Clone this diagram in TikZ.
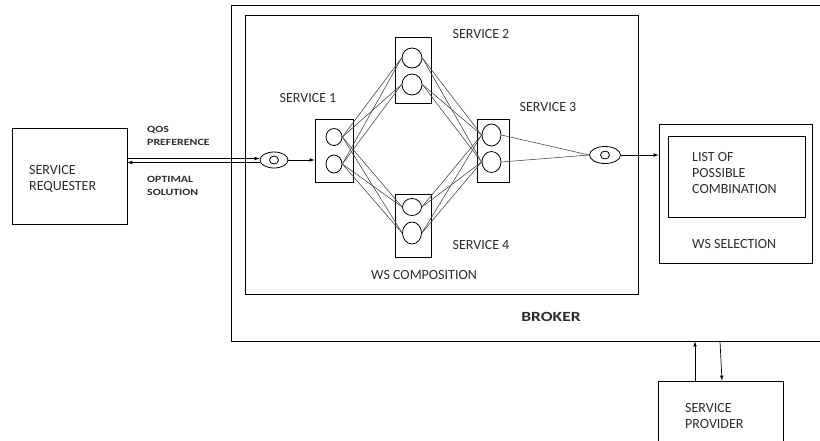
\documentclass[tikz,border=0pt]{standalone}
\usepackage{fontspec}
\setmainfont{Carlito}
\newfontfamily\widebold{Carlito}[FakeStretch=1.25]
\usetikzlibrary{arrows}
\usetikzlibrary{shapes.geometric}
\definecolor{txtgray}{RGB}{45,45,45}

\tikzset{
  box/.style={draw, line width=0.9pt, minimum width=#1},
  pod/.style={draw, line width=0.8pt, ellipse, inner sep=0pt},
  mesh/.style={line width=0.55pt, color=black!75},
  lbl/.style={inner sep=0pt, text=txtgray, font=\fontsize{14}{16}\selectfont},
  tag/.style={inner sep=0pt, text=txtgray, font=\widebold\bfseries\fontsize{9.5}{13}\selectfont},
}

\begin{document}
\begin{tikzpicture}[x=1pt, y=-1pt, >=latex]
\useasboundingbox (0,0) rectangle (820,440);
\clip (0,0) rectangle (820,440);

% outer boxes
\node[box=599pt, minimum height=336pt] (broker) at (530.5,173) {};
\node[box=393pt, minimum height=279pt] (comp) at (441.5,154.5) {};
\node[box=115pt, minimum height=96pt] (req) at (69.5,176) {};
\node[box=153pt, minimum height=139pt] (sel) at (735.5,193.5) {};
\node[box=137pt, minimum height=81pt] (list) at (736.5,176.5) {};
\node[box=125pt, minimum height=79pt] (prov) at (720.5,420.5) {};

% service boxes
\node[box=38pt, minimum height=63pt] (s1) at (334,150.5) {};
\node[box=36pt, minimum height=66pt] (s2) at (413,70) {};
\node[box=32pt, minimum height=63pt] (s3) at (493,150.5) {};
\node[box=36pt, minimum height=63pt] (s4) at (413,225.5) {};

% service instances
\node[pod, minimum width=16pt, minimum height=17pt] (s1a) at (334,137) {};
\node[pod, minimum width=16pt, minimum height=18pt] (s1b) at (334,164) {};
\node[pod, minimum width=20pt, minimum height=20pt] (s2a) at (412,58) {};
\node[pod, minimum width=20pt, minimum height=21pt] (s2b) at (412,84.5) {};
\node[pod, minimum width=19pt, minimum height=22pt] (s3a) at (491.5,135) {};
\node[pod, minimum width=19pt, minimum height=21pt] (s3b) at (491.5,162) {};
\node[pod, minimum width=19pt, minimum height=17pt] (s4a) at (412,207) {};
\node[pod, minimum width=19pt, minimum height=22pt] (s4b) at (412,233) {};

% entry and exit points
\node[pod, minimum width=28pt, minimum height=16pt] (e1) at (274,160) {};
\node[pod, minimum width=9pt, minimum height=8pt] (e1i) at (e1) {};
\node[pod, minimum width=31pt, minimum height=17pt] (e2) at (605,155) {};
\node[pod, minimum width=9pt, minimum height=8pt] (e2i) at (e2) {};

% composition mesh
\foreach \a in {s1a,s1b}
  \foreach \b in {s2a,s2b,s4a,s4b}
    \draw[mesh] (\a.east) -- (\b.west);
\foreach \a in {s2a,s2b,s4a,s4b}
  \foreach \b in {s3a,s3b}
    \draw[mesh] (\a.east) -- (\b.west);
\foreach \a in {s3a,s3b}
  \draw[mesh] (\a.east) -- (e2.west);

% arrows
\draw[->, line width=0.7pt] ([yshift=1.5pt]req.east |- e1.west) -- ([yshift=1.5pt]e1.west);
\draw[<-, line width=0.7pt] ([yshift=-2.5pt]req.east |- e1.west) -- ([yshift=-2.5pt]e1.west);
\draw[->, line width=0.7pt] (e1.east) -- (e1.east -| s1.west);
\draw[->, line width=0.7pt] (e2.east) -- (e2.east -| sel.west);
\draw[->, line width=0.7pt] ([xshift=-25.5pt]prov.north) -- ([xshift=-25.5pt]prov.north |- broker.south);
\draw[->, line width=0.7pt] ([xshift=-0.5pt]prov.north |- broker.south) -- ([xshift=1.5pt]prov.north);

% labels
\node[lbl, anchor=west, align=left] (reqtxt) at (29,179) {SERVICE\\REQUESTER};
\node[tag, anchor=west, align=left] (qos) at (147,135.5) {QOS\\PREFERENCE};
\node[tag, anchor=west, align=left] (opt) at (147,186) {OPTIMAL\\SOLUTION};
\node[lbl] (s1txt) at (308,98) {SERVICE 1};
\node[lbl] (s2txt) at (481,34) {SERVICE 2};
\node[lbl] (s3txt) at (548,107) {SERVICE 3};
\node[lbl] (s4txt) at (481,245) {SERVICE 4};
\node[lbl] (comptxt) at (424,275) {WS COMPOSITION};
\node[tag, font=\widebold\bfseries\fontsize{14}{16}\selectfont] (brokertxt) at (551,317) {BROKER};
\node[lbl, anchor=west, align=left] (listtxt) at (692,173) {LIST OF\\POSSIBLE\\COMBINATION};
\node[lbl, anchor=west] (seltxt) at (692,244) {WS SELECTION};
\node[lbl, anchor=west, align=left] (provtxt) at (685,415.5) {SERVICE\\PROVIDER};
\end{tikzpicture}
\end{document}
